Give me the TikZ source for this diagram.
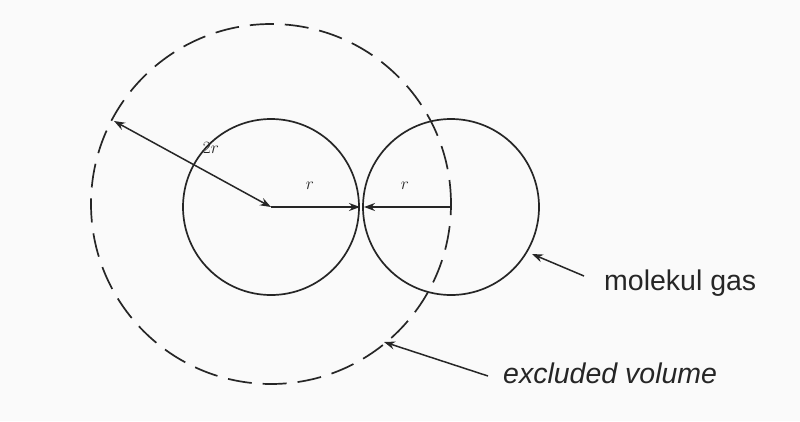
\documentclass[tikz,border=0pt]{standalone}
\usepackage{fontspec}
\setmainfont{Liberation Sans}
\usetikzlibrary{arrows.meta}
\begin{document}
\begin{tikzpicture}[x=1pt,y=-1pt,
  mol/.style={draw=black!85,line width=1.7pt},
  excl/.style={draw=black!85,line width=1.7pt,dash pattern=on 24pt off 11pt},
  arr/.style={draw=black!85,line width=1.5pt,-{Stealth[length=11pt,width=8pt]}},
  darr/.style={draw=black!85,line width=1.5pt,{Stealth[length=11pt,width=8pt]}-{Stealth[length=11pt,width=8pt]}},
  lbl/.style={font=\fontsize{28.5}{32}\selectfont,text=black!85,inner sep=0pt,anchor=west},
  rlbl/.style={font=\fontsize{18}{20}\selectfont,text=black!85,inner sep=0pt}]
\fill[white!96!gray] (0,0) rectangle (800,421);
\useasboundingbox (0,0) rectangle (800,421);
% centres and points
\coordinate (cL) at (271,207);
\coordinate (cR) at (451,207);
\coordinate (tL) at (360,207);
\coordinate (tR) at (364,207);
\coordinate (p2r) at (114,121);
% circles
\draw[mol] (cL) circle[radius=88pt];
\draw[mol] (cR) circle[radius=88pt];
\draw[excl] (271,204) circle[radius=180pt];
% radius arrows
\draw[darr] (p2r) -- (cL);
\draw[arr] (cL) -- (tL);
\draw[arr] (cR) -- (tR);
\node[rlbl] (l2r) at (211,148) {$2r$};
\node[rlbl] (lr1) at (310,186) {$r$};
\node[rlbl] (lr2) at (405,186) {$r$};
% labels
\node[lbl] (mg) at (604,283) {molekul gas};
\node[lbl,font=\fontsize{28.5}{32}\selectfont\itshape] (ev) at (503,373) {excluded volume};
\coordinate (mgs) at (584,276);
\coordinate (mgt) at (532,254);
\coordinate (evs) at (488,376);
\coordinate (evt) at (384,342);
\draw[arr] (mgs) -- (mgt);
\draw[arr] (evs) -- (evt);
\end{tikzpicture}
\end{document}
